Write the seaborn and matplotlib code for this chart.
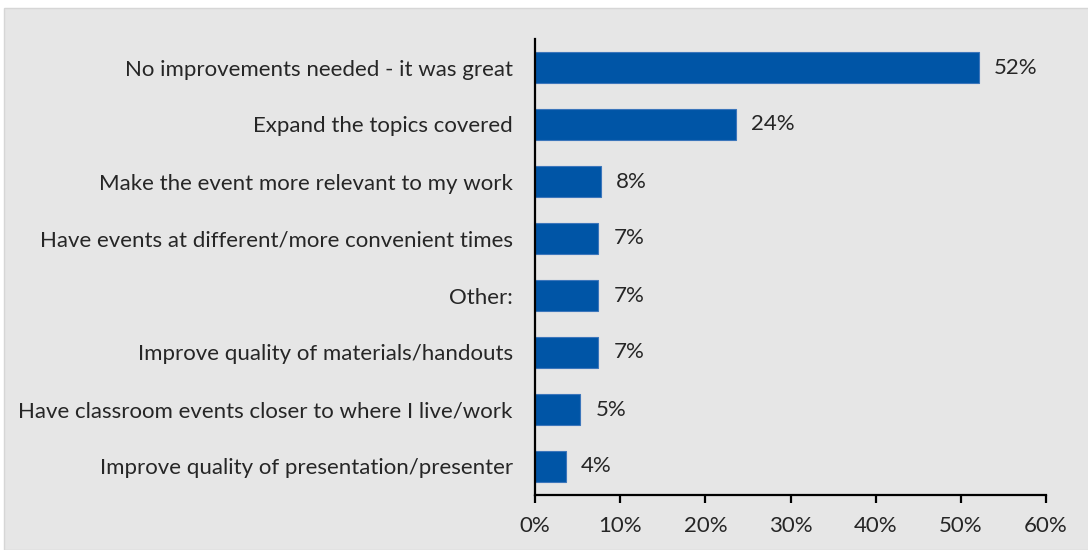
import matplotlib
matplotlib.use("Agg")
import matplotlib.pyplot as plt
import matplotlib.patches as mpatches
import seaborn as sns
import pandas as pd

categories = [
    "No improvements needed - it was great",
    "Expand the topics covered",
    "Make the event more relevant to my work",
    "Have events at different/more convenient times",
    "Other:",
    "Improve quality of materials/handouts",
    "Have classroom events closer to where I live/work",
    "Improve quality of presentation/presenter",
]
shares = [52.1, 23.6, 7.75, 7.4, 7.4, 7.4, 5.3, 3.6]
tick_values = [0, 10, 20, 30, 40, 50, 60]
tick_labels = ["0%", "10%", "20%", "30%", "40%", "50%", "60%"]

df = pd.DataFrame({"category": categories, "share": shares})

sns.set_theme(style="white")
plt.rcParams["font.family"] = ["Lato", "DejaVu Sans"]

BG = "#e6e6e6"
BAR = "#0055a6"
TXT = "#262626"
FS = 16

fig = plt.figure(figsize=(10.88, 5.5), dpi=100)
fig.patch.set_facecolor("white")
fig.patches.append(mpatches.Rectangle((4 / 1088, 0), 1, 1 - 8 / 550,
                                      transform=fig.transFigure,
                                      facecolor=BG, edgecolor="#d6d6d6",
                                      linewidth=1.0, zorder=-10))

ax = fig.add_axes([535 / 1088, 1 - 495 / 550, (1046 - 535) / 1088, (495 - 39) / 550])
ax.set_facecolor(BG)

sns.barplot(data=df, x="share", y="category", orient="h", color=BAR,
            saturation=1, width=0.55, linewidth=0.8, edgecolor="#3c76bb", ax=ax)

ax.bar_label(ax.containers[0], fmt="{:.0f}%", padding=11, fontsize=FS, color=TXT)

ax.set_xlim(0, 60)
ax.set_xticks(tick_values)
ax.set_xticklabels(tick_labels)
ax.set_xlabel("")
ax.set_ylabel("")

for side in ("top", "right"):
    ax.spines[side].set_visible(False)
for side in ("left", "bottom"):
    ax.spines[side].set_color("black")
    ax.spines[side].set_linewidth(1.6)

ax.tick_params(axis="x", direction="out", length=6, width=1.6, color="black",
               labelsize=FS, labelcolor=TXT, pad=9, bottom=True)
ax.tick_params(axis="y", length=0, labelsize=FS, labelcolor=TXT, pad=16)

fig.savefig("out.png", dpi=100, facecolor=fig.get_facecolor())
